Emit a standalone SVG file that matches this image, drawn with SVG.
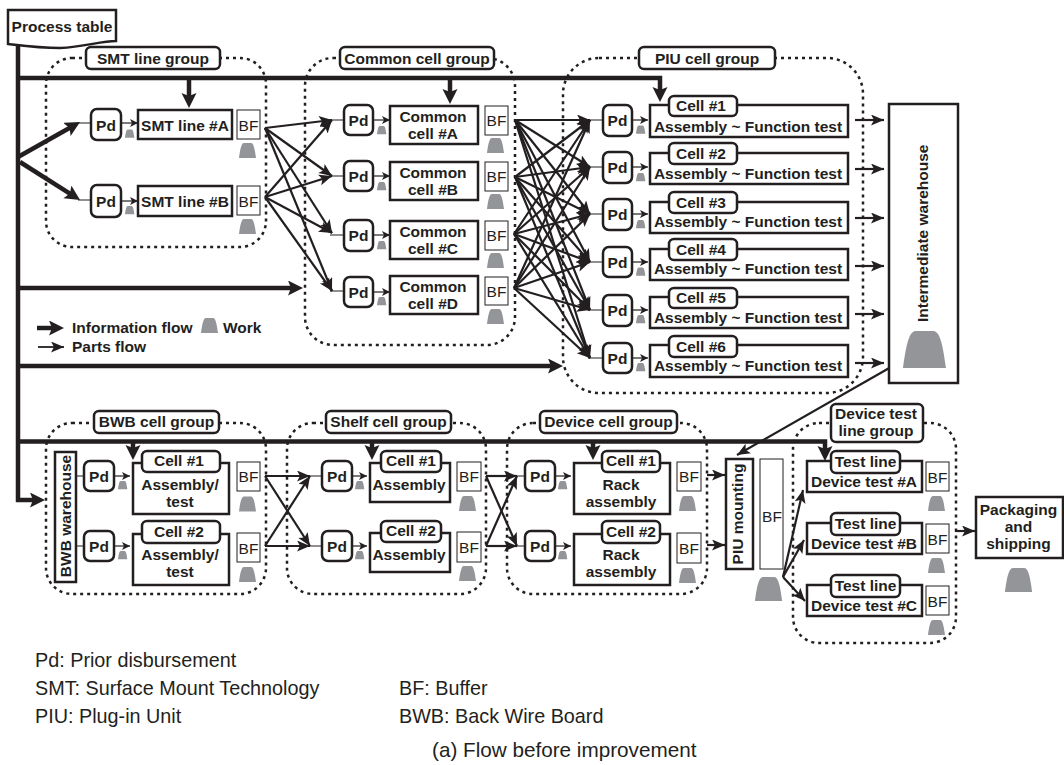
<svg xmlns="http://www.w3.org/2000/svg" width="1064" height="765" viewBox="0 0 1064 765">
<style>
text{font-family:"Liberation Sans",Arial,sans-serif;fill:#231f20}
.b{font-weight:bold;font-size:15.5px;text-anchor:middle}
.r{font-size:15.5px;text-anchor:middle}
.l{font-weight:bold;font-size:15.5px}
.n{font-size:19.800px}
.bx{fill:#fff;stroke:#231f20;stroke-width:2.5}
.f{fill:#fff;stroke:#231f20;stroke-width:1}
.grp{fill:none;stroke:#231f20;stroke-width:2.5;stroke-dasharray:3 4}
.th{fill:none;stroke:#231f20;stroke-width:4.5}
.p{fill:none;stroke:#231f20;stroke-width:2.200}
.s{fill:none;stroke:#231f20;stroke-width:1.200}
</style>
<defs>
<marker id="big" markerUnits="userSpaceOnUse" markerWidth="18" markerHeight="16" refX="9" refY="7.500" orient="auto"><path d="M0 0L15 7.500L0 15L3 7.500Z" fill="#231f20"/></marker>
<marker id="mid" markerUnits="userSpaceOnUse" markerWidth="14" markerHeight="12" refX="13" refY="5.500" orient="auto"><path d="M0 0L13 5.500L0 11L3 5.500Z" fill="#231f20"/></marker>
<marker id="sm" markerUnits="userSpaceOnUse" markerWidth="9" markerHeight="8" refX="8" refY="4" orient="auto"><path d="M0 0L8 4L0 8L2 4Z" fill="#231f20"/></marker>
<path id="wk" d="M0 15C1 8 2 0 5 0H12C15 0 16 8 17 15Z" fill="#939598"/>
</defs>
<g id="group-frames">
<rect class="grp" x="46" y="58" width="220" height="189" rx="26"/>
<rect class="grp" x="305" y="58" width="210" height="287" rx="28"/>
<rect class="grp" x="563" y="58" width="300" height="335" rx="36"/>
<rect class="grp" x="46" y="423" width="220" height="171" rx="26"/>
<rect class="grp" x="287" y="423" width="199" height="171" rx="26"/>
<rect class="grp" x="507" y="423" width="200" height="171" rx="26"/>
<rect class="grp" x="793" y="423" width="163" height="220" rx="26"/>
</g>
<g id="connectors">
<path class="th" d="M18 44V500H39" marker-end="url(#big)"/>
<path class="th" d="M18 78H660V96" marker-end="url(#big)"/>
<path class="th" d="M189 78V102" marker-end="url(#big)"/>
<path class="th" d="M450 78V98" marker-end="url(#big)"/>
<path class="th" d="M18 157L74.800 125" marker-end="url(#big)"/>
<path class="th" d="M20 162L75 196.800" marker-end="url(#big)"/>
<path class="th" d="M18 288H297" marker-end="url(#big)"/>
<path class="th" d="M18 366H557" marker-end="url(#big)"/>
<path class="th" d="M18 441.500H825V455" marker-end="url(#big)"/>
<path class="th" d="M133 441V454" marker-end="url(#big)"/>
<path class="th" d="M372 441V454" marker-end="url(#big)"/>
<path class="th" d="M593 441V454" marker-end="url(#big)"/>
<path class="th" d="M37 328H58" marker-end="url(#big)"/>
<path class="s" d="M78 123H91M78 200H91M330 120H344M330 176H344M330 235H344M330 291H344M588 120H603M588 167H603M588 214H603M588 262H603M588 310H603M588 358H603M76 476H84M76 546H84M308 476H322M308 546H322M515 476H525M515 546H525"/>
<g class="p">
<path d="M265 128L332 120" marker-end="url(#mid)"/><path d="M265 128L332 176" marker-end="url(#mid)"/><path d="M265 128L332 233" marker-end="url(#mid)"/><path d="M265 128L332 291" marker-end="url(#mid)"/>
<path d="M265 197L332 120" marker-end="url(#mid)"/><path d="M265 197L332 176" marker-end="url(#mid)"/><path d="M265 197L332 233" marker-end="url(#mid)"/><path d="M265 197L332 291" marker-end="url(#mid)"/>
<path d="M515 120L590 120" marker-end="url(#mid)"/><path d="M515 120L590 167" marker-end="url(#mid)"/><path d="M515 120L590 214" marker-end="url(#mid)"/><path d="M515 120L590 262" marker-end="url(#mid)"/><path d="M515 120L590 310" marker-end="url(#mid)"/><path d="M515 120L590 358" marker-end="url(#mid)"/>
<path d="M515 177L590 120" marker-end="url(#mid)"/><path d="M515 177L590 167" marker-end="url(#mid)"/><path d="M515 177L590 214" marker-end="url(#mid)"/><path d="M515 177L590 262" marker-end="url(#mid)"/><path d="M515 177L590 310" marker-end="url(#mid)"/><path d="M515 177L590 358" marker-end="url(#mid)"/>
<path d="M514 234L590 120" marker-end="url(#mid)"/><path d="M514 234L590 167" marker-end="url(#mid)"/><path d="M514 234L590 214" marker-end="url(#mid)"/><path d="M514 234L590 262" marker-end="url(#mid)"/><path d="M514 234L590 310" marker-end="url(#mid)"/><path d="M514 234L590 358" marker-end="url(#mid)"/>
<path d="M514 288L590 120" marker-end="url(#mid)"/><path d="M514 288L590 167" marker-end="url(#mid)"/><path d="M514 288L590 214" marker-end="url(#mid)"/><path d="M514 288L590 262" marker-end="url(#mid)"/><path d="M514 288L590 310" marker-end="url(#mid)"/><path d="M514 288L590 358" marker-end="url(#mid)"/>
<path d="M265 476L310 476" marker-end="url(#mid)"/><path d="M265 476L310 546" marker-end="url(#mid)"/><path d="M265 546L310 476" marker-end="url(#mid)"/><path d="M265 546L310 546" marker-end="url(#mid)"/>
<path d="M486 476L517 476" marker-end="url(#mid)"/><path d="M486 476L517 546" marker-end="url(#mid)"/><path d="M486 546L517 476" marker-end="url(#mid)"/><path d="M486 546L517 546" marker-end="url(#mid)"/>
<path d="M707 475H725" marker-end="url(#mid)"/><path d="M707 545H725" marker-end="url(#mid)"/>
<path d="M783 577L803 490" marker-end="url(#mid)"/><path d="M783 577L804 540" marker-end="url(#mid)"/><path d="M783 577L805 601" marker-end="url(#mid)"/>
<path d="M955 531H975" marker-end="url(#mid)"/>
<path d="M855 120H884" marker-end="url(#mid)"/><path d="M855 169H884" marker-end="url(#mid)"/><path d="M855 218H884" marker-end="url(#mid)"/><path d="M855 266H884" marker-end="url(#mid)"/><path d="M855 314H884" marker-end="url(#mid)"/><path d="M855 363H884" marker-end="url(#mid)"/>
<path d="M898 363L737 455" marker-end="url(#mid)"/>
<path d="M38 347H64" style="stroke-width:1.800" marker-end="url(#mid)"/>
</g>
<g class="s">
<path d="M121 123H138" marker-end="url(#sm)"/><path d="M121 201H138" marker-end="url(#sm)"/>
<path d="M373 120H390" marker-end="url(#sm)"/><path d="M373 176H390" marker-end="url(#sm)"/><path d="M373 235H390" marker-end="url(#sm)"/><path d="M373 292H390" marker-end="url(#sm)"/>
<path d="M632 120H648" marker-end="url(#sm)"/><path d="M632 167H648" marker-end="url(#sm)"/><path d="M632 214H648" marker-end="url(#sm)"/><path d="M632 262H648" marker-end="url(#sm)"/><path d="M632 310H648" marker-end="url(#sm)"/><path d="M632 358H648" marker-end="url(#sm)"/>
<path d="M114 476H130" marker-end="url(#sm)"/><path d="M114 546H130" marker-end="url(#sm)"/>
<path d="M352 476H367" marker-end="url(#sm)"/><path d="M352 546H367" marker-end="url(#sm)"/>
<path d="M555 476H571" marker-end="url(#sm)"/><path d="M555 546H571" marker-end="url(#sm)"/>
</g>
</g>
<g id="process-table"><path class="bx" d="M8 10H116V41C100 41 85 47 60 48C40 48 25 46 8 44Z"/><text class="b" x="62" y="32">Process table</text></g>
<g id="smt-group">
<rect class="bx" x="86" y="47" width="134" height="22" rx="5"/><text class="b" x="153" y="64">SMT line group</text>
<g id="smt-pd-a"><rect class="bx" x="91" y="109" width="30" height="31" rx="6"/><text class="b" x="106" y="131">Pd</text><use href="#wk" transform="translate(125 129.500) scale(.55)"/></g>
<g id="smt-line-a"><rect class="bx" x="138" y="110" width="94" height="29"/><text class="b" x="185" y="131">SMT line #A</text></g>
<g id="smt-bf-a"><rect class="f" x="237" y="110" width="23" height="29"/><text class="r" x="248.500" y="131">BF</text><use href="#wk" x="239" y="143"/></g>
<g id="smt-pd-b"><rect class="bx" x="91" y="185" width="30" height="32" rx="6"/><text class="b" x="106" y="207">Pd</text><use href="#wk" transform="translate(125 206) scale(.55)"/></g>
<g id="smt-line-b"><rect class="bx" x="138" y="186" width="94" height="30"/><text class="b" x="185" y="207">SMT line #B</text></g>
<g id="smt-bf-b"><rect class="f" x="237" y="186" width="23" height="29"/><text class="r" x="248.500" y="207">BF</text><use href="#wk" x="239" y="219"/></g>
</g>
<g id="common-group">
<rect class="bx" x="340" y="47" width="154" height="22" rx="5"/><text class="b" x="417" y="64">Common cell group</text>
<g id="common-a"><rect class="bx" x="344" y="105" width="29" height="30" rx="6"/><text class="b" x="358.500" y="126">Pd</text><use href="#wk" transform="translate(377 126) scale(.55)"/><rect class="bx" x="390" y="106" width="88" height="38"/><text class="b" x="433" y="122">Common</text><text class="b" x="433" y="139">cell #A</text><rect class="f" x="485" y="106" width="23" height="29"/><text class="r" x="496.500" y="126">BF</text><use href="#wk" x="487" y="138"/></g>
<g id="common-b"><rect class="bx" x="344" y="161" width="29" height="30" rx="6"/><text class="b" x="358.500" y="182">Pd</text><use href="#wk" transform="translate(377 182) scale(.55)"/><rect class="bx" x="390" y="162" width="88" height="38"/><text class="b" x="433" y="178">Common</text><text class="b" x="433" y="195">cell #B</text><rect class="f" x="485" y="162" width="23" height="29"/><text class="r" x="496.500" y="182">BF</text><use href="#wk" x="487" y="194"/></g>
<g id="common-c"><rect class="bx" x="344" y="220" width="29" height="31" rx="6"/><text class="b" x="358.500" y="241">Pd</text><use href="#wk" transform="translate(377 241) scale(.55)"/><rect class="bx" x="390" y="221" width="88" height="38"/><text class="b" x="433" y="237">Common</text><text class="b" x="433" y="254">cell #C</text><rect class="f" x="485" y="221" width="23" height="29"/><text class="r" x="496.500" y="241">BF</text><use href="#wk" x="487" y="253"/></g>
<g id="common-d"><rect class="bx" x="344" y="277" width="29" height="30" rx="6"/><text class="b" x="358.500" y="298">Pd</text><use href="#wk" transform="translate(377 297) scale(.55)"/><rect class="bx" x="390" y="276" width="88" height="38"/><text class="b" x="433" y="292">Common</text><text class="b" x="433" y="309">cell #D</text><rect class="f" x="485" y="277" width="23" height="28"/><text class="r" x="496.500" y="297">BF</text><use href="#wk" x="487" y="309"/></g>
</g>
<g id="piu-group">
<rect class="bx" x="639" y="47" width="136" height="22" rx="5"/><text class="b" x="707" y="64">PIU cell group</text>
<g id="piu-1"><rect class="bx" x="603" y="105" width="29" height="31" rx="6"/><text class="b" x="617.500" y="126">Pd</text><use href="#wk" transform="translate(636 125.500) scale(.55)"/><rect class="bx" x="650" y="105" width="198" height="32"/><rect class="bx" x="669" y="96" width="68" height="20" rx="5"/><text class="b" x="701" y="111">Cell #1</text><text class="b" x="748" y="132">Assembly ~ Function test</text></g>
<g id="piu-2"><rect class="bx" x="603" y="152" width="29" height="31" rx="6"/><text class="b" x="617.500" y="173">Pd</text><use href="#wk" transform="translate(636 173) scale(.55)"/><rect class="bx" x="650" y="153" width="198" height="31"/><rect class="bx" x="669" y="143" width="68" height="21" rx="5"/><text class="b" x="701" y="159">Cell #2</text><text class="b" x="748" y="179">Assembly ~ Function test</text></g>
<g id="piu-3"><rect class="bx" x="603" y="199" width="29" height="31" rx="6"/><text class="b" x="617.500" y="220">Pd</text><use href="#wk" transform="translate(636 220) scale(.55)"/><rect class="bx" x="650" y="202" width="198" height="31"/><rect class="bx" x="669" y="192" width="68" height="21" rx="5"/><text class="b" x="701" y="208">Cell #3</text><text class="b" x="748" y="227">Assembly ~ Function test</text></g>
<g id="piu-4"><rect class="bx" x="603" y="247" width="29" height="30" rx="6"/><text class="b" x="617.500" y="268">Pd</text><use href="#wk" transform="translate(636 267.500) scale(.55)"/><rect class="bx" x="650" y="249" width="198" height="31"/><rect class="bx" x="669" y="239" width="68" height="21" rx="5"/><text class="b" x="701" y="255">Cell #4</text><text class="b" x="748" y="274">Assembly ~ Function test</text></g>
<g id="piu-5"><rect class="bx" x="603" y="295" width="29" height="31" rx="6"/><text class="b" x="617.500" y="316">Pd</text><use href="#wk" transform="translate(636 315) scale(.55)"/><rect class="bx" x="650" y="297" width="198" height="31"/><rect class="bx" x="669" y="288" width="68" height="20" rx="5"/><text class="b" x="701" y="303">Cell #5</text><text class="b" x="748" y="323">Assembly ~ Function test</text></g>
<g id="piu-6"><rect class="bx" x="603" y="343" width="29" height="30" rx="6"/><text class="b" x="617.500" y="364">Pd</text><use href="#wk" transform="translate(636 363) scale(.55)"/><rect class="bx" x="650" y="345" width="198" height="32"/><rect class="bx" x="669" y="336" width="68" height="21" rx="5"/><text class="b" x="701" y="352">Cell #6</text><text class="b" x="748" y="371">Assembly ~ Function test</text></g>
</g>
<g id="intermediate-warehouse"><rect class="bx" x="889" y="104" width="69" height="279"/><text class="l" transform="translate(928 322) rotate(-90)">Intermediate warehouse</text><use href="#wk" transform="translate(903 331) scale(2.530 2.470)"/></g>
<g id="legend">
<use href="#wk" x="201" y="318"/><text class="l" x="72" y="333">Information flow</text><text class="l" x="223" y="333">Work</text><text class="l" x="72" y="352">Parts flow</text>
</g>
<g id="bwb-group">
<rect class="bx" x="94" y="411" width="125" height="22" rx="5"/><text class="b" x="156.500" y="427">BWB cell group</text>
<g id="bwb-warehouse"><rect class="bx" x="55" y="452" width="21" height="130"/><text class="b" transform="translate(71 516) rotate(-90)">BWB warehouse</text></g>
<g id="bwb-1"><rect class="bx" x="84" y="461" width="30" height="30" rx="6"/><text class="b" x="99" y="482">Pd</text><use href="#wk" transform="translate(118 481) scale(.55)"/><rect class="bx" x="133" y="463" width="96" height="51"/><rect class="bx" x="142" y="451" width="78" height="21" rx="5"/><text class="b" x="179" y="466">Cell #1</text><text class="b" x="180" y="490">Assembly/</text><text class="b" x="180" y="507">test</text><rect class="f" x="237" y="462" width="23" height="29"/><text class="r" x="248.500" y="482">BF</text><use href="#wk" x="239" y="496.500"/></g>
<g id="bwb-2"><rect class="bx" x="84" y="531" width="30" height="30" rx="6"/><text class="b" x="99" y="552">Pd</text><use href="#wk" transform="translate(118 551) scale(.55)"/><rect class="bx" x="133" y="534" width="96" height="51"/><rect class="bx" x="142" y="521" width="78" height="22" rx="5"/><text class="b" x="179" y="537">Cell #2</text><text class="b" x="180" y="560">Assembly/</text><text class="b" x="180" y="577">test</text><rect class="f" x="237" y="533" width="23" height="29"/><text class="r" x="248.500" y="554">BF</text><use href="#wk" x="239" y="567"/></g>
</g>
<g id="shelf-group">
<rect class="bx" x="326" y="411" width="125" height="22" rx="5"/><text class="b" x="388.500" y="427">Shelf cell group</text>
<g id="shelf-1"><rect class="bx" x="322" y="461" width="30" height="30" rx="6"/><text class="b" x="337" y="482">Pd</text><use href="#wk" transform="translate(355 481) scale(.55)"/><rect class="bx" x="370" y="463" width="80" height="39"/><rect class="bx" x="381" y="451" width="60" height="21" rx="5"/><text class="b" x="411" y="466">Cell #1</text><text class="b" x="409" y="490">Assembly</text><rect class="f" x="457" y="462" width="24" height="29"/><text class="r" x="469" y="482">BF</text><use href="#wk" x="459" y="496"/></g>
<g id="shelf-2"><rect class="bx" x="322" y="531" width="30" height="30" rx="6"/><text class="b" x="337" y="552">Pd</text><use href="#wk" transform="translate(355 551) scale(.55)"/><rect class="bx" x="370" y="533" width="80" height="39"/><rect class="bx" x="381" y="521" width="60" height="21" rx="5"/><text class="b" x="411" y="536">Cell #2</text><text class="b" x="409" y="560">Assembly</text><rect class="f" x="457" y="532" width="24" height="30"/><text class="r" x="469" y="553">BF</text><use href="#wk" x="459" y="566"/></g>
</g>
<g id="device-group">
<rect class="bx" x="540" y="411" width="137" height="22" rx="5"/><text class="b" x="608.500" y="427">Device cell group</text>
<g id="device-1"><rect class="bx" x="525" y="461" width="30" height="30" rx="6"/><text class="b" x="540" y="482">Pd</text><use href="#wk" transform="translate(558 481) scale(.55)"/><rect class="bx" x="574" y="463" width="96" height="51"/><rect class="bx" x="602" y="451" width="58" height="21" rx="5"/><text class="b" x="631" y="466">Cell #1</text><text class="b" x="621" y="490">Rack</text><text class="b" x="621" y="507">assembly</text><rect class="f" x="677" y="462" width="24" height="29"/><text class="r" x="689" y="482">BF</text><use href="#wk" x="679" y="496"/></g>
<g id="device-2"><rect class="bx" x="525" y="531" width="30" height="30" rx="6"/><text class="b" x="540" y="552">Pd</text><use href="#wk" transform="translate(558 551) scale(.55)"/><rect class="bx" x="574" y="534" width="96" height="51"/><rect class="bx" x="602" y="521" width="58" height="22" rx="5"/><text class="b" x="631" y="537">Cell #2</text><text class="b" x="621" y="560">Rack</text><text class="b" x="621" y="577">assembly</text><rect class="f" x="677" y="533" width="24" height="30"/><text class="r" x="689" y="554">BF</text><use href="#wk" x="679" y="568"/></g>
</g>
<g id="piu-mounting"><rect class="bx" x="726" y="459" width="27" height="110"/><text class="b" transform="translate(743 514) rotate(-90)">PIU mounting</text><rect class="f" x="760" y="459" width="23" height="110"/><text class="r" x="772" y="522">BF</text><use href="#wk" transform="translate(755 577) scale(1.600)"/></g>
<g id="device-test-group">
<rect class="bx" x="831" y="404" width="92" height="38" rx="5"/><text class="b" x="876" y="419">Device test</text><text class="b" x="876" y="436">line group</text>
<g id="test-a"><rect class="bx" x="807" y="461" width="115" height="31"/><rect class="bx" x="831" y="451" width="69" height="22" rx="5"/><text class="b" x="865.500" y="467">Test line</text><text class="b" x="864" y="487">Device test #A</text><rect class="f" x="926" y="462" width="23" height="29"/><text class="r" x="937.500" y="483">BF</text><use href="#wk" x="928" y="496"/></g>
<g id="test-b"><rect class="bx" x="807" y="523" width="115" height="31"/><rect class="bx" x="831" y="513" width="69" height="22" rx="5"/><text class="b" x="865.500" y="529">Test line</text><text class="b" x="864" y="549">Device test #B</text><rect class="f" x="926" y="524" width="23" height="29"/><text class="r" x="937.500" y="545">BF</text><use href="#wk" x="928" y="558"/></g>
<g id="test-c"><rect class="bx" x="807" y="585" width="115" height="31"/><rect class="bx" x="831" y="575" width="69" height="22" rx="5"/><text class="b" x="865.500" y="591">Test line</text><text class="b" x="864" y="611">Device test #C</text><rect class="f" x="926" y="586" width="23" height="29"/><text class="r" x="937.500" y="607">BF</text><use href="#wk" x="928" y="620"/></g>
</g>
<g id="packaging"><rect class="bx" x="976" y="497" width="87" height="61"/><text class="b" x="1018.500" y="515">Packaging</text><text class="b" x="1018.500" y="532">and</text><text class="b" x="1018.500" y="549">shipping</text><use href="#wk" transform="translate(1005 568) scale(1.600)"/></g>
<g id="notes">
<text class="n" x="35" y="667">Pd: Prior disbursement</text>
<text class="n" x="35" y="695">SMT: Surface Mount Technology</text>
<text class="n" x="35" y="723">PIU: Plug-in Unit</text>
<text class="n" x="399" y="695">BF: Buffer</text>
<text class="n" x="399" y="723">BWB: Back Wire Board</text>
<text class="n" x="432" y="757" style="font-size:20.700px">(a) Flow before improvement</text>
</g>
</svg>
